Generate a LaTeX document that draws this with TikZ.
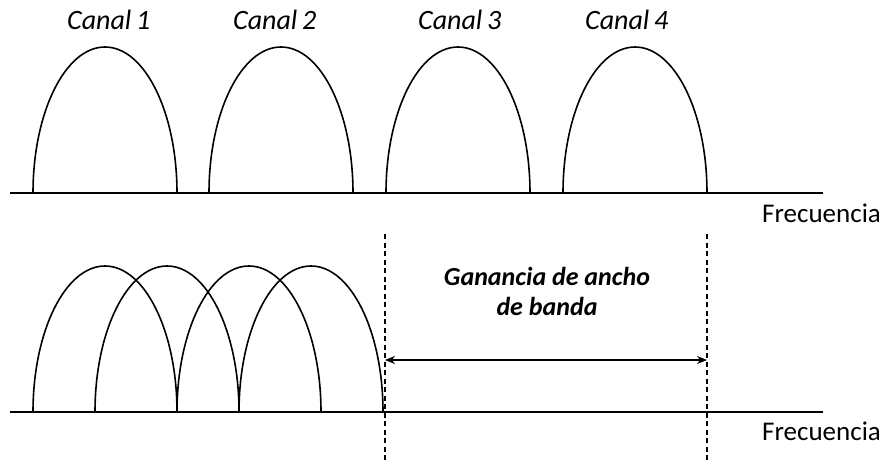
\documentclass[tikz,border=0pt]{standalone}
\usepackage{fontspec}
\setmainfont{Carlito}
\usetikzlibrary{arrows.meta}
\begin{document}
\begin{tikzpicture}[x=1pt,y=-1pt,
  hump/.style={line width=1.6pt},
  axisline/.style={line width=1.8pt},
  guide/.style={line width=1.2pt, dash pattern=on 5pt off 3.5pt},
  chan/.style={font=\fontsize{28}{32}\selectfont\itshape, inner sep=0pt, anchor=base west},
  freq/.style={font=\fontsize{27}{32}\selectfont, inner sep=0pt, anchor=base west},
  gain/.style={font=\fontsize{26}{30}\selectfont\bfseries\itshape, inner sep=0pt, align=center, anchor=base}]
\useasboundingbox (0,0) rectangle (884,463);
% top axis
\coordinate (ta0) at (10,193);
\coordinate (ta1) at (823,193);
\draw[axisline] (ta0) -- (ta1);
\foreach \x in {33,209,386,563}{
  \draw[hump] (\x,193) arc[start angle=180,end angle=0,x radius=72pt,y radius=146pt];
}
\node[chan] (c1) at (67,30) {Canal\,1};
\node[chan] (c2) at (233,30) {Canal\,2};
\node[chan] (c3) at (418,30) {Canal\,3};
\node[chan] (c4) at (585,30) {Canal\,4};
\node[freq] (f1) at (762,222) {Frecuencia};
% bottom axis
\coordinate (ba0) at (10,412);
\coordinate (ba1) at (823,412);
\draw[axisline] (ba0) -- (ba1);
\foreach \x in {33,95,177,239}{
  \draw[hump] (\x,412) arc[start angle=180,end angle=0,x radius=72pt,y radius=146pt];
}
\node[freq] (f2) at (762,440) {Frecuencia};
% guides
\coordinate (d1t) at (385,234);
\coordinate (d1b) at (385,463);
\coordinate (d2t) at (707,234);
\coordinate (d2b) at (707,463);
\draw[guide] (d1t) -- (d1b);
\draw[guide] (d2t) -- (d2b);
\coordinate (ga) at (385,360);
\coordinate (gb) at (707,360);
\draw[line width=1.4pt, {Stealth[length=10pt,width=8pt]}-{Stealth[length=10pt,width=8pt]}] (ga) -- (gb);
\node[gain] (g) at (547,315) {Ganancia de ancho\\de banda};
\end{tikzpicture}
\end{document}
